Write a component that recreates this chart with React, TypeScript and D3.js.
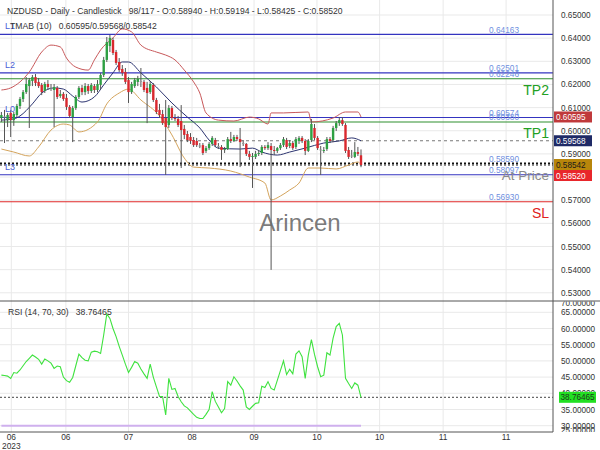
import React from "react";
import * as d3 from "d3";

// ---------- DATA ----------
const opens = [
  0.6055, 0.6062, 0.6046, 0.6077, 0.6046, 0.6068, 0.6107, 0.6137, 0.6167, 0.6193,
  0.6215, 0.6232, 0.6211, 0.6198, 0.6172, 0.6202, 0.6187, 0.6176, 0.6185, 0.6150,
  0.6159, 0.6142, 0.6103, 0.6059, 0.6098, 0.6146, 0.6185, 0.6167, 0.6193, 0.6172,
  0.6193, 0.6176, 0.6198, 0.6241, 0.6306, 0.6366, 0.6392, 0.6340, 0.6297, 0.6267,
  0.6254, 0.6219, 0.6167, 0.6193, 0.6211, 0.6215, 0.6211, 0.6185, 0.6167, 0.6198,
  0.6133, 0.6090, 0.6072, 0.6055, 0.6025, 0.6098, 0.6055, 0.6051, 0.6042, 0.6008,
  0.5986, 0.5973, 0.5960, 0.5956, 0.5936, 0.5938, 0.5913, 0.5925, 0.5943, 0.5960,
  0.5934, 0.5930, 0.5917, 0.5921, 0.5964, 0.5956, 0.5973, 0.5964, 0.5947, 0.5943,
  0.5900, 0.5887, 0.5887, 0.5900, 0.5904, 0.5930, 0.5925, 0.5934, 0.5917, 0.5913,
  0.5925, 0.5938, 0.5960, 0.5934, 0.5947, 0.5930, 0.5956, 0.5969, 0.5956, 0.5913,
  0.5960, 0.6012, 0.5969, 0.5919, 0.5913, 0.5921, 0.5964, 0.5960, 0.6012, 0.6033,
  0.6046, 0.6025, 0.5917, 0.5893, 0.5887, 0.5908, 0.5894,
];
const highs = [
  0.6081, 0.6090, 0.6077, 0.6090, 0.6081, 0.6116, 0.6146, 0.6176, 0.6232, 0.6228,
  0.6241, 0.6245, 0.6228, 0.6206, 0.6211, 0.6219, 0.6202, 0.6202, 0.6193, 0.6176,
  0.6167, 0.6159, 0.6111, 0.6107, 0.6154, 0.6193, 0.6198, 0.6206, 0.6202, 0.6206,
  0.6202, 0.6219, 0.6250, 0.6319, 0.6405, 0.6414, 0.6401, 0.6349, 0.6314, 0.6284,
  0.6271, 0.6232, 0.6211, 0.6228, 0.6237, 0.6271, 0.6219, 0.6211, 0.6215, 0.6206,
  0.6142, 0.6116, 0.6090, 0.6133, 0.6111, 0.6107, 0.6072, 0.6064, 0.6111, 0.6025,
  0.5999, 0.5990, 0.5973, 0.5969, 0.5947, 0.5947, 0.5934, 0.5951, 0.5977, 0.5969,
  0.5947, 0.5938, 0.5930, 0.5973, 0.5995, 0.5982, 0.5982, 0.6012, 0.5960, 0.5947,
  0.5913, 0.5904, 0.5913, 0.5917, 0.5938, 0.5938, 0.5951, 0.5947, 0.5934, 0.5930,
  0.5947, 0.5973, 0.5969, 0.5960, 0.5956, 0.5973, 0.5977, 0.5977, 0.5964, 0.5964,
  0.6051, 0.6029, 0.5977, 0.5934, 0.5930, 0.5973, 0.5973, 0.6021, 0.6042, 0.6059,
  0.6059, 0.6033, 0.5930, 0.5917, 0.5951, 0.5930, 0.59194,
];
const lows = [
  0.6038, 0.5947, 0.6016, 0.5973, 0.6021, 0.6059, 0.6094, 0.6124, 0.6159, 0.6012,
  0.6193, 0.6193, 0.6185, 0.6154, 0.6163, 0.6176, 0.6172, 0.6016, 0.6137, 0.6142,
  0.6129, 0.6090, 0.6055, 0.5951, 0.6090, 0.6137, 0.6154, 0.6154, 0.6159, 0.6163,
  0.6163, 0.6167, 0.6180, 0.6232, 0.6297, 0.6340, 0.6327, 0.6284, 0.6254, 0.6237,
  0.6202, 0.6120, 0.6159, 0.6185, 0.6193, 0.6189, 0.6167, 0.6033, 0.6159, 0.6124,
  0.6072, 0.6055, 0.6025, 0.5809, 0.6012, 0.6046, 0.6042, 0.6016, 0.5839, 0.5964,
  0.5951, 0.5943, 0.5930, 0.5930, 0.5925, 0.5895, 0.5904, 0.5917, 0.5934, 0.5930,
  0.5921, 0.5874, 0.5904, 0.5917, 0.5947, 0.5951, 0.5956, 0.5843, 0.5934, 0.5891,
  0.5874, 0.5753, 0.5878, 0.5891, 0.5895, 0.5917, 0.5917, 0.5399, 0.5895, 0.5904,
  0.5917, 0.5930, 0.5921, 0.5925, 0.5917, 0.5921, 0.5943, 0.5947, 0.5895, 0.5908,
  0.5951, 0.5960, 0.5917, 0.5809, 0.5904, 0.5913, 0.5947, 0.5951, 0.5999, 0.6021,
  0.6021, 0.5904, 0.5878, 0.5882, 0.5882, 0.5891, 0.58425,
];
const closes = [
  0.6068, 0.6062, 0.6068, 0.6046, 0.6072, 0.6107, 0.6137, 0.6167, 0.6202, 0.6219,
  0.6232, 0.6206, 0.6193, 0.6167, 0.6202, 0.6189, 0.6187, 0.6189, 0.6146, 0.6159,
  0.6137, 0.6103, 0.6064, 0.6098, 0.6146, 0.6185, 0.6167, 0.6193, 0.6172, 0.6198,
  0.6176, 0.6202, 0.6241, 0.6306, 0.6383, 0.6401, 0.6336, 0.6293, 0.6262, 0.6250,
  0.6211, 0.6167, 0.6202, 0.6219, 0.6224, 0.6215, 0.6176, 0.6163, 0.6202, 0.6133,
  0.6081, 0.6068, 0.6033, 0.6016, 0.6098, 0.6055, 0.6051, 0.6025, 0.6003, 0.5982,
  0.5960, 0.5956, 0.5938, 0.5938, 0.5936, 0.5904, 0.5925, 0.5943, 0.5969, 0.5938,
  0.5934, 0.5917, 0.5921, 0.5964, 0.5956, 0.5973, 0.5964, 0.5951, 0.5947, 0.5900,
  0.5887, 0.5891, 0.5900, 0.5904, 0.5930, 0.5925, 0.5938, 0.5917, 0.5913, 0.5925,
  0.5938, 0.5964, 0.5930, 0.5947, 0.5925, 0.5964, 0.5969, 0.5956, 0.5913, 0.5956,
  0.6029, 0.5969, 0.5925, 0.5919, 0.5917, 0.5964, 0.5956, 0.6012, 0.6033, 0.6046,
  0.6029, 0.5913, 0.5887, 0.5893, 0.5908, 0.5900, 0.5852,
];
const rsiValues = [
  45.6, 45.5, 45.3, 44.6, 46.4, 46.2, 47.2, 48.5, 49.8, 50.8,
  51.8, 51.2, 50.5, 49.0, 50.6, 50.0, 49.3, 47.7, 48.4, 48.2,
  45.0, 43.9, 43.4, 44.9, 48.5, 52.1, 51.0, 50.2, 50.0, 52.7,
  53.0, 52.8, 52.3, 58.0, 64.5, 63.1, 60.0, 57.5, 54.5, 51.8,
  49.0, 46.4, 48.0, 49.8, 49.3, 47.5, 46.0, 44.6, 49.0, 45.0,
  42.0, 39.0, 39.0, 33.3, 44.6, 41.2, 41.5, 39.0, 37.4, 36.1,
  35.5, 34.5, 33.5, 32.6, 32.2, 32.2, 33.5, 35.0, 40.5, 37.5,
  35.8, 34.0, 35.3, 43.6, 42.5, 45.1, 43.8, 42.3, 41.0, 35.8,
  35.0, 36.0, 36.9, 37.1, 42.2, 41.8, 43.6, 41.5, 41.0, 44.0,
  47.0, 50.0, 45.8, 47.4, 46.0, 52.1, 53.1, 51.3, 44.6, 51.8,
  56.6, 52.0, 48.2, 45.1, 45.6, 52.5, 51.8, 57.0, 60.6, 61.6,
  58.0, 44.6, 43.0, 41.5, 43.2, 42.5, 38.76465,
];
// TMA bands: [bar index, price]
const upperBand: [number, number][] = [
  [0, 0.6176], [3, 0.6185], [6, 0.6211], [9, 0.6254], [13, 0.634], [16, 0.637], [19, 0.6362],
  [21, 0.6314], [24, 0.6275], [28, 0.6262], [30, 0.6306], [32, 0.6349], [36, 0.6401], [39, 0.644],
  [42, 0.6427], [45, 0.637], [50, 0.634], [53, 0.6327], [56, 0.6306], [59, 0.6262], [62, 0.6211],
  [64, 0.6163], [66, 0.6077], [70, 0.6046], [75, 0.6042], [80, 0.6059], [83, 0.6051], [86, 0.6029],
  [87, 0.6077], [91, 0.6077], [99, 0.6081], [100, 0.6038], [107, 0.6055], [111, 0.6081],
  [115, 0.6081], [116, 0.60595],
];
const middleBand: [number, number][] = [
  [0, 0.6046], [4, 0.6051], [6, 0.6064], [10, 0.6116], [13, 0.6163], [17, 0.6185], [20, 0.618],
  [23, 0.615], [26, 0.6124], [30, 0.6146], [33, 0.6198], [36, 0.625], [39, 0.6297], [41, 0.6297],
  [45, 0.625], [50, 0.6189], [55, 0.612], [60, 0.6059], [64, 0.6012], [67, 0.596], [70, 0.5925],
  [77, 0.5921], [81, 0.5925], [84, 0.5908], [89, 0.5895], [93, 0.5908], [98, 0.5925], [104, 0.5947],
  [109, 0.5956], [113, 0.5969], [116, 0.59568],
];
const lowerBand: [number, number][] = [
  [0, 0.5921], [4, 0.5908], [9, 0.5891], [12, 0.593], [16, 0.6003], [20, 0.6029], [22, 0.6025],
  [25, 0.5995], [31, 0.6038], [34, 0.6116], [38, 0.6163], [41, 0.618], [45, 0.6133], [51, 0.6064],
  [55, 0.5982], [59, 0.5882], [62, 0.5843], [67, 0.5839], [74, 0.5826], [80, 0.58], [85, 0.5774],
  [87, 0.5701], [90, 0.5718], [93, 0.5744], [96, 0.5774], [99, 0.5839], [103, 0.5839], [108, 0.5835],
  [112, 0.5852], [115, 0.5865], [116, 0.58542],
];
const levelValues = [0.64163, 0.62501, 0.62246, 0.60574, 0.6038, 0.5859, 0.58097, 0.5693];
const levelNames = ["L1", "L2", "TP2", "L0", "TP1", "At Price", "L3", "SL"];
const levelKinds = ["pivot", "pivot", "target", "pivot", "target", "entry", "pivot", "stop"];
const dateTickIdx = [3.2, 20.8, 41, 61.5, 81.5, 101.8, 122, 142.5, 162.8];
const dateTickLabels = ["06", "06", "07", "08", "09", "10", "10", "11", "11"];
const yearLabel = "2023";

// ---------- CHART ----------
const FONT = "'Liberation Sans', Arial, Helvetica, sans-serif";
const W = 600;
const H = 450;
const AXIS_X = 553;
const MAIN_BOTTOM = 301;
const RSI_BOTTOM = 432;

export default function App() {
  const n = closes.length;
  const x = d3.scaleLinear().domain([0, 177]).range([1.4, 1.4 + 3.1 * 177]);
  const yP = d3.scaleLinear().domain([0.53, 0.65]).range([292.8, 15]);
  const yR = d3.scaleLinear().domain([30, 65]).range([425.7, 312.3]);
  const fmt5 = d3.format(".5f");
  const priceTicks = d3.range(53, 66).map((v) => v / 100);
  const rsiTicks = d3.range(25, 71, 5);

  const bandLine = d3
    .line<[number, number]>()
    .x((d) => x(d[0]))
    .y((d) => yP(d[1]))
    .curve(d3.curveMonotoneX);
  const rsiLine = d3
    .line<number>()
    .x((_, i) => x(i))
    .y((d) => yR(d));

  const last = n - 1;
  const lastClose = closes[last];
  const bU = upperBand[upperBand.length - 1][1];
  const bM = middleBand[middleBand.length - 1][1];
  const bL = lowerBand[lowerBand.length - 1][1];

  // right-axis value boxes with collision avoidance
  const boxesRaw = [
    { v: bU, fill: "#c0393b", text: "#ffffff" },
    { v: bM, fill: "#1f2a66", text: "#ffffff" },
    { v: bL, fill: "#b8860b", text: "#1a1a1a" },
    { v: lastClose, fill: "#e8262b", text: "#ffffff" },
  ].map((b) => ({ ...b, y: yP(b.v) }));
  const boxes = [...boxesRaw].sort((a, b) => a.y - b.y);
  const BOX_H = 11;
  for (let i = 1; i < boxes.length; i++) {
    if (boxes[i].y < boxes[i - 1].y + BOX_H) boxes[i].y = boxes[i - 1].y + BOX_H;
  }

  const levelColor = (k: string) =>
    k === "pivot" ? "#3434c0" : k === "target" ? "#2f8f2f" : k === "stop" ? "#e02a2a" : "#111111";
  const tagColor = (k: string) =>
    k === "target" ? "#23a023" : k === "stop" ? "#e02020" : "#8a8a8a";

  const bw = 2.4;
  const header = `NZDUSD - Daily - Candlestick   98/117 - O:${fmt5(opens[last])} - H:${fmt5(
    highs[last]
  )} - L:${fmt5(lows[last])} - C:${fmt5(closes[last])}`;
  const tmab = `TMAB (10)   ${fmt5(bU)}/${fmt5(bM)}/${fmt5(bL)}`;
  const rsiLast = rsiValues[rsiValues.length - 1];
  const rsiHeader = `RSI (14, 70, 30)   ${fmt5(rsiLast)}`;

  return (
    <svg
      width={W}
      height={H}
      style={{ position: "fixed", left: 0, top: 0, background: "#fff" }}
      fontFamily={FONT}
    >
      <defs>
        <clipPath id="mainClip">
          <rect x={0} y={0} width={AXIS_X} height={MAIN_BOTTOM} />
        </clipPath>
        <clipPath id="rsiClip">
          <rect x={0} y={MAIN_BOTTOM} width={AXIS_X} height={RSI_BOTTOM - MAIN_BOTTOM} />
        </clipPath>
        <clipPath id="rsiAxisClip">
          <rect x={AXIS_X} y={MAIN_BOTTOM + 0.5} width={W - AXIS_X} height={RSI_BOTTOM - MAIN_BOTTOM - 0.5} />
        </clipPath>
        <clipPath id="mainAxisClip">
          <rect x={AXIS_X} y={0} width={W - AXIS_X} height={MAIN_BOTTOM} />
        </clipPath>
      </defs>
      <rect x={0} y={0} width={W} height={H} fill="#ffffff" />

      {/* vertical grid */}
      {dateTickIdx.map((t, i) => (
        <line key={"vg" + i} x1={x(t)} x2={x(t)} y1={0} y2={RSI_BOTTOM} stroke="#e9e9e9" strokeWidth={1} />
      ))}
      {/* horizontal grid main */}
      <g clipPath="url(#mainClip)">
        {priceTicks.map((p, i) => (
          <line key={"hg" + i} x1={0} x2={AXIS_X} y1={yP(p)} y2={yP(p)} stroke="#e9e9e9" />
        ))}
      </g>
      <g clipPath="url(#rsiClip)">
        {rsiTicks.map((r, i) => (
          <line key={"rg" + i} x1={0} x2={AXIS_X} y1={yR(r)} y2={yR(r)} stroke="#e9e9e9" />
        ))}
      </g>

      {/* main panel content */}
      <g clipPath="url(#mainClip)">
        {/* level lines */}
        {levelValues.map((v, i) => {
          const k = levelKinds[i];
          const y = yP(v);
          return (
            <line
              key={"lv" + i}
              x1={0}
              x2={AXIS_X}
              y1={y}
              y2={y}
              stroke={levelColor(k)}
              strokeWidth={k === "entry" ? 1.6 : 1.1}
              strokeDasharray={k === "entry" ? "2,2" : undefined}
            />
          );
        })}
        {/* middle band current dashed */}
        <line x1={0} x2={AXIS_X} y1={yP(bM)} y2={yP(bM)} stroke="#777" strokeDasharray="3,3" strokeWidth={1} />
        {/* current price dotted */}
        <line x1={0} x2={AXIS_X} y1={yP(lastClose)} y2={yP(lastClose)} stroke="#222" strokeDasharray="2,2" strokeWidth={1} />

        {/* bands */}
        <path d={bandLine(upperBand) || ""} fill="none" stroke="#c8585a" strokeWidth={1} />
        <path d={bandLine(middleBand) || ""} fill="none" stroke="#2c3470" strokeWidth={1} />
        <path d={bandLine(lowerBand) || ""} fill="none" stroke="#d4a45c" strokeWidth={1} />

        {/* candles */}
        {closes.map((c, i) => {
          const o = opens[i];
          const cx = x(i);
          const top = yP(Math.max(o, c));
          const bot = yP(Math.min(o, c));
          const col = c > o ? "#2ea043" : c < o ? "#d9282e" : "#9a9a9a";
          return (
            <g key={"c" + i}>
              <line x1={cx} x2={cx} y1={yP(highs[i])} y2={yP(lows[i])} stroke="#555" strokeWidth={1} />
              <rect x={cx - bw / 2} y={top} width={bw} height={Math.max(1, bot - top)} fill={col} />
            </g>
          );
        })}

        {/* level value labels */}
        {levelValues.map((v, i) => (
          <text key={"lt" + i} x={489} y={yP(v) - 1.5} fontSize={8.3} fill="#6f8fe0">
            {fmt5(v)}
          </text>
        ))}
        {/* level tags */}
        {levelValues.map((v, i) => {
          const k = levelKinds[i];
          if (k === "pivot") {
            return (
              <text key={"tg" + i} x={5} y={yP(v) - 5} fontSize={9} fill="#4c5fd6">
                {levelNames[i]}
              </text>
            );
          }
          return (
            <text
              key={"tg" + i}
              x={549}
              y={yP(v) + 16.5}
              fontSize={k === "entry" ? 13.5 : 14}
              textAnchor="end"
              fill={tagColor(k)}
            >
              {levelNames[i]}
            </text>
          );
        })}
        {/* watermark */}
        <text x={300} y={231} fontSize={24} textAnchor="middle" fill="#6a6a6a" fillOpacity={0.9}>
          Arincen
        </text>
      </g>

      {/* headers */}
      <text x={7} y={14} fontSize={8.6} fill="#333" style={{ whiteSpace: "pre" }}>
        {header}
      </text>
      <text x={10} y={29} fontSize={8.6} fill="#333" style={{ whiteSpace: "pre" }}>
        {tmab}
      </text>

      {/* RSI panel */}
      <g clipPath="url(#rsiClip)">
        <line x1={x(0)} x2={x(n - 1)} y1={yR(30)} y2={yR(30)} stroke="#cfb0ee" strokeWidth={2} />
        <line x1={0} x2={AXIS_X} y1={yR(rsiLast)} y2={yR(rsiLast)} stroke="#444" strokeDasharray="2,2" strokeWidth={1} />
        <path d={rsiLine(rsiValues) || ""} fill="none" stroke="#3fe23f" strokeWidth={1.1} />
      </g>
      <text x={8} y={315} fontSize={8.6} fill="#333" style={{ whiteSpace: "pre" }}>
        {rsiHeader}
      </text>

      {/* axes frame */}
      <line x1={0} x2={W} y1={MAIN_BOTTOM} y2={MAIN_BOTTOM} stroke="#555" strokeWidth={1} />
      <line x1={0} x2={AXIS_X} y1={RSI_BOTTOM} y2={RSI_BOTTOM} stroke="#555" strokeWidth={1} />
      <line x1={AXIS_X} x2={AXIS_X} y1={0} y2={RSI_BOTTOM} stroke="#555" strokeWidth={1} />

      {/* price axis labels */}
      <g clipPath="url(#mainAxisClip)">
        {priceTicks.map((p, i) => (
          <text key={"pt" + i} x={561} y={yP(p) + 3} fontSize={8.2} fill="#333">
            {fmt5(p)}
          </text>
        ))}
        {boxes.map((b, i) => (
          <g key={"bx" + i}>
            <rect x={554} y={b.y - BOX_H / 2} width={38} height={BOX_H} fill={b.fill} />
            <text x={556} y={b.y + 3} fontSize={8.2} fill={b.text}>
              {fmt5(b.v)}
            </text>
          </g>
        ))}
      </g>
      {/* rsi axis labels */}
      <g clipPath="url(#rsiAxisClip)">
        {rsiTicks.map((r, i) => {
          const yy = Math.min(Math.max(yR(r), MAIN_BOTTOM + 2), RSI_BOTTOM - 2);
          return (
            <text key={"rt" + i} x={561} y={yy + 3} fontSize={8.2} fill="#333">
              {d3.format(".5f")(r)}
            </text>
          );
        })}
        <rect x={559} y={yR(rsiLast) - 5.5} width={37} height={11} fill="#22e022" />
        <text x={560.5} y={yR(rsiLast) + 3} fontSize={8.2} fill="#1c3a1c">
          {fmt5(rsiLast)}
        </text>
      </g>

      {/* date axis */}
      {dateTickIdx.map((t, i) => (
        <text key={"dt" + i} x={x(t)} y={440} fontSize={8.4} textAnchor="middle" fill="#333">
          {dateTickLabels[i]}
        </text>
      ))}
      <text x={x(dateTickIdx[0])} y={449} fontSize={8.4} textAnchor="middle" fill="#333">
        {yearLabel}
      </text>
    </svg>
  );
}
